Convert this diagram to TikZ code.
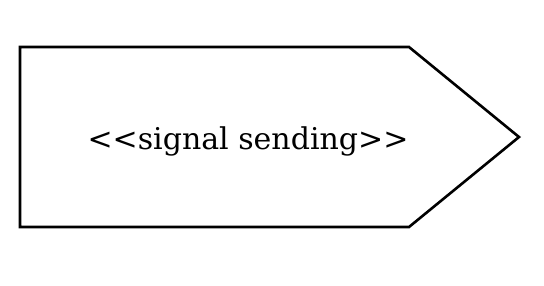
\documentclass[tikz,border=0pt]{standalone}
\usepackage{fontspec}
\setmainfont{DejaVu Serif}
\begin{document}
\begin{tikzpicture}[x=1pt,y=-1pt,
  outline/.style={draw=black,line width=2.6pt,line join=miter},
  sigtext/.style={font=\fontsize{30}{36}\selectfont,inner sep=0pt}]
  \useasboundingbox (0,0) rectangle (544,285);
  % send-signal pentagon
  \coordinate (tl) at (20,47);
  \coordinate (tn) at (409,47);
  \coordinate (tip) at (519,137);
  \coordinate (bn) at (409,227);
  \coordinate (bl) at (20,227);
  \draw[outline] (tl) -- (tn) -- (tip) -- (bn) -- (bl) -- cycle;
  \node[sigtext] (sig) at (248,141) {<{}<signal sending>{}>};
\end{tikzpicture}
\end{document}
